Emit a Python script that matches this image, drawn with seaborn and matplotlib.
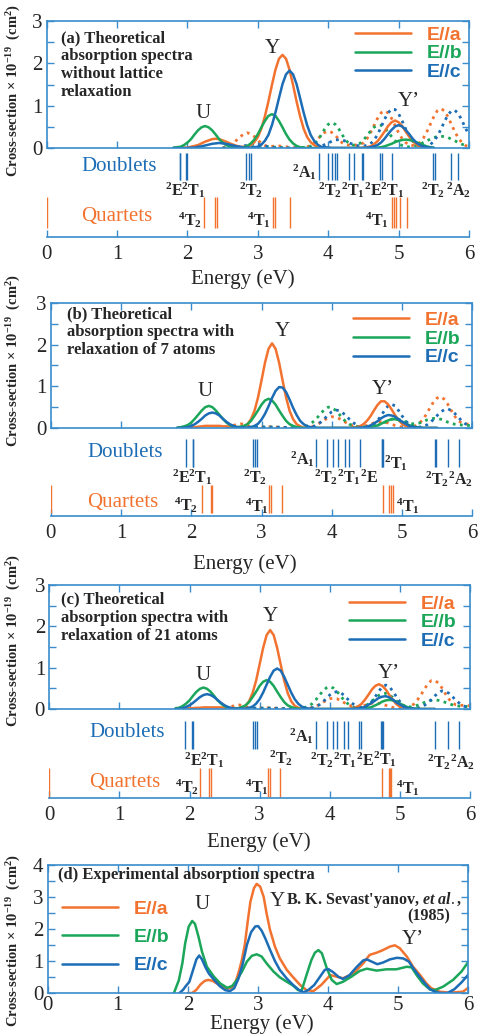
import numpy as np
import matplotlib
matplotlib.use("Agg")
import matplotlib.pyplot as plt
from matplotlib.ticker import MultipleLocator
import seaborn as sns

sns.set_style("ticks")
plt.rcParams["font.family"] = ["Liberation Serif", "DejaVu Serif"]
plt.rcParams["mathtext.fontset"] = "custom"
plt.rcParams["mathtext.rm"] = "Liberation Serif"
plt.rcParams["mathtext.it"] = "Liberation Serif:italic:bold"
plt.rcParams["mathtext.bf"] = "Liberation Serif:bold"

ORANGE = "#f27330"
GREEN = "#1ba65a"
BLUE = "#1c6db5"
FRAME = "#3a8ccc"

# energy grids of the calculated spectra (eV)
E_SOLID = np.round(np.arange(1.80, 5.501, 0.05), 2)
E_DOT = np.round(np.arange(2.50, 6.001, 0.05), 2)

# ---- (a) without lattice relaxation ----
A_ORANGE = [0.00, 0.00, 0.00, 0.01, 0.01, 0.03, 0.05, 0.07, 0.11, 0.15,
            0.18, 0.21, 0.22, 0.21, 0.18, 0.15, 0.11, 0.08, 0.05, 0.03,
            0.03, 0.04, 0.07, 0.14, 0.26, 0.46, 0.75, 1.10, 1.49, 1.85,
            2.11, 2.20, 2.11, 1.85, 1.49, 1.10, 0.75, 0.46, 0.26, 0.14,
            0.07, 0.03, 0.01, 0.00, 0.00, 0.00, 0.00, 0.00, 0.00, 0.00,
            0.00, 0.00, 0.00, 0.00, 0.01, 0.02, 0.04, 0.09, 0.16, 0.27,
            0.39, 0.52, 0.61, 0.65, 0.61, 0.52, 0.39, 0.27, 0.16, 0.09,
            0.04, 0.02, 0.01, 0.00, 0.00]
A_GREEN = [0.01, 0.02, 0.03, 0.07, 0.13, 0.21, 0.32, 0.42, 0.49, 0.52,
           0.49, 0.42, 0.32, 0.21, 0.13, 0.07, 0.03, 0.02, 0.01, 0.01,
           0.02, 0.05, 0.11, 0.20, 0.33, 0.49, 0.64, 0.76, 0.80, 0.76,
           0.64, 0.49, 0.33, 0.20, 0.11, 0.05, 0.02, 0.01, 0.00, 0.00,
           0.00, 0.00, 0.00, 0.00, 0.00, 0.00, 0.00, 0.00, 0.00, 0.00,
           0.00, 0.00, 0.00, 0.00, 0.00, 0.00, 0.00, 0.01, 0.01, 0.02,
           0.04, 0.07, 0.10, 0.14, 0.17, 0.19, 0.20, 0.19, 0.17, 0.14,
           0.10, 0.07, 0.04, 0.02, 0.01]
A_BLUE = [0.00, 0.00, 0.00, 0.00, 0.00, 0.01, 0.01, 0.03, 0.04, 0.06,
          0.08, 0.10, 0.11, 0.12, 0.11, 0.10, 0.08, 0.06, 0.04, 0.03,
          0.01, 0.01, 0.01, 0.02, 0.03, 0.08, 0.17, 0.31, 0.54, 0.84,
          1.18, 1.51, 1.74, 1.83, 1.74, 1.51, 1.18, 0.84, 0.54, 0.31,
          0.17, 0.08, 0.03, 0.02, 0.01, 0.00, 0.00, 0.00, 0.00, 0.00,
          0.00, 0.00, 0.00, 0.00, 0.00, 0.01, 0.02, 0.04, 0.07, 0.13,
          0.22, 0.33, 0.43, 0.51, 0.54, 0.51, 0.43, 0.33, 0.22, 0.13,
          0.07, 0.04, 0.02, 0.01, 0.00]
A_ORANGE_DOT = [0.01, 0.03, 0.06, 0.11, 0.19, 0.27, 0.33, 0.36, 0.33, 0.27,
                0.19, 0.11, 0.06, 0.04, 0.04, 0.05, 0.05, 0.04, 0.03, 0.02,
                0.01, 0.01, 0.01, 0.01, 0.03, 0.06, 0.12, 0.21, 0.30, 0.37,
                0.40, 0.37, 0.30, 0.21, 0.12, 0.08, 0.07, 0.07, 0.07, 0.09,
                0.12, 0.22, 0.36, 0.53, 0.70, 0.83, 0.88, 0.83, 0.70, 0.53,
                0.36, 0.22, 0.13, 0.07, 0.06, 0.08, 0.13, 0.23, 0.38, 0.56,
                0.74, 0.88, 0.93, 0.88, 0.74, 0.56, 0.38, 0.23, 0.13, 0.06,
                0.03]
A_GREEN_DOT = [0.00, 0.00, 0.01, 0.01, 0.02, 0.02, 0.03, 0.03, 0.03, 0.03,
               0.03, 0.03, 0.03, 0.03, 0.02, 0.02, 0.01, 0.01, 0.00, 0.00,
               0.00, 0.00, 0.01, 0.01, 0.02, 0.04, 0.09, 0.18, 0.31, 0.45,
               0.56, 0.60, 0.56, 0.45, 0.31, 0.18, 0.10, 0.07, 0.07, 0.11,
               0.19, 0.29, 0.40, 0.49, 0.54, 0.54, 0.48, 0.38, 0.27, 0.17,
               0.10, 0.06, 0.03, 0.03, 0.04, 0.06, 0.09, 0.13, 0.17, 0.21,
               0.25, 0.27, 0.28, 0.27, 0.25, 0.21, 0.17, 0.13, 0.09, 0.06,
               0.04]
A_BLUE_DOT = [0.00, 0.00, 0.01, 0.01, 0.02, 0.03, 0.05, 0.07, 0.09, 0.10,
              0.09, 0.07, 0.05, 0.03, 0.02, 0.01, 0.01, 0.00, 0.00, 0.00,
              0.00, 0.00, 0.00, 0.00, 0.00, 0.01, 0.01, 0.03, 0.05, 0.08,
              0.12, 0.16, 0.19, 0.20, 0.19, 0.16, 0.12, 0.09, 0.06, 0.05,
              0.05, 0.06, 0.10, 0.18, 0.32, 0.49, 0.68, 0.83, 0.92, 0.91,
              0.81, 0.64, 0.45, 0.29, 0.16, 0.08, 0.05, 0.03, 0.04, 0.08,
              0.16, 0.28, 0.44, 0.62, 0.78, 0.88, 0.89, 0.81, 0.65, 0.47,
              0.31]
A_DOUBLETS = [1.89, 1.90, 1.98, 1.99, 2.83, 2.87, 2.90, 3.87, 4.00, 4.05, 4.09, 4.12,
              4.29, 4.37, 4.48, 4.49, 4.74, 4.77, 4.90, 5.49, 5.52, 5.75, 5.85]
A_QUARTETS = [0.00, 2.24, 2.39, 2.42, 3.21, 3.24, 3.46, 4.91, 4.94, 4.96, 5.02, 5.12]

# ---- (b) relaxation of 7 atoms ----
B_ORANGE = [0.00, 0.00, 0.01, 0.01, 0.02, 0.02, 0.03, 0.04, 0.05, 0.05,
            0.05, 0.05, 0.05, 0.04, 0.04, 0.03, 0.02, 0.02, 0.02, 0.04,
            0.09, 0.21, 0.41, 0.73, 1.14, 1.57, 1.90, 2.03, 1.90, 1.57,
            1.14, 0.73, 0.41, 0.21, 0.09, 0.04, 0.01, 0.00, 0.00, 0.00,
            0.00, 0.00, 0.00, 0.00, 0.00, 0.00, 0.00, 0.00, 0.00, 0.00,
            0.01, 0.02, 0.04, 0.09, 0.17, 0.28, 0.42, 0.55, 0.64, 0.64,
            0.57, 0.45, 0.31, 0.19, 0.10, 0.05, 0.02, 0.01, 0.00, 0.00,
            0.00, 0.00, 0.00, 0.00, 0.00]
B_GREEN = [0.01, 0.02, 0.04, 0.07, 0.13, 0.22, 0.32, 0.42, 0.50, 0.53,
           0.50, 0.42, 0.32, 0.22, 0.13, 0.07, 0.04, 0.02, 0.03, 0.05,
           0.09, 0.17, 0.29, 0.42, 0.56, 0.66, 0.70, 0.66, 0.56, 0.42,
           0.29, 0.17, 0.09, 0.05, 0.02, 0.01, 0.00, 0.00, 0.00, 0.00,
           0.00, 0.00, 0.00, 0.00, 0.00, 0.00, 0.00, 0.00, 0.00, 0.00,
           0.00, 0.00, 0.00, 0.00, 0.01, 0.02, 0.04, 0.06, 0.10, 0.14,
           0.18, 0.21, 0.21, 0.19, 0.15, 0.11, 0.07, 0.04, 0.02, 0.01,
           0.00, 0.00, 0.00, 0.00, 0.00]
B_BLUE = [0.00, 0.00, 0.01, 0.02, 0.05, 0.09, 0.15, 0.22, 0.30, 0.35,
          0.37, 0.35, 0.30, 0.22, 0.15, 0.09, 0.05, 0.02, 0.01, 0.01,
          0.01, 0.02, 0.05, 0.10, 0.20, 0.34, 0.52, 0.72, 0.89, 0.98,
          0.97, 0.86, 0.68, 0.48, 0.31, 0.17, 0.09, 0.04, 0.02, 0.01,
          0.00, 0.00, 0.00, 0.00, 0.00, 0.00, 0.00, 0.00, 0.00, 0.00,
          0.00, 0.00, 0.01, 0.01, 0.03, 0.06, 0.11, 0.16, 0.23, 0.28,
          0.31, 0.30, 0.27, 0.21, 0.15, 0.10, 0.05, 0.03, 0.01, 0.01,
          0.00, 0.00, 0.00, 0.00, 0.00]
B_ORANGE_DOT = [0.01, 0.03, 0.06, 0.09, 0.10, 0.09, 0.06, 0.03, 0.02, 0.02,
                0.02, 0.03, 0.03, 0.03, 0.02, 0.02, 0.01, 0.01, 0.00, 0.00,
                0.00, 0.00, 0.01, 0.01, 0.03, 0.05, 0.09, 0.14, 0.20, 0.24,
                0.27, 0.26, 0.23, 0.19, 0.13, 0.09, 0.05, 0.04, 0.03, 0.04,
                0.06, 0.09, 0.12, 0.14, 0.15, 0.14, 0.12, 0.09, 0.06, 0.04,
                0.02, 0.01, 0.01, 0.03, 0.06, 0.12, 0.21, 0.34, 0.49, 0.63,
                0.72, 0.75, 0.69, 0.57, 0.42, 0.28, 0.17, 0.12, 0.10, 0.09,
                0.08]
B_GREEN_DOT = [0.00, 0.01, 0.01, 0.02, 0.02, 0.02, 0.02, 0.02, 0.02, 0.02,
               0.02, 0.02, 0.02, 0.02, 0.01, 0.01, 0.01, 0.00, 0.00, 0.00,
               0.00, 0.01, 0.02, 0.05, 0.10, 0.17, 0.26, 0.36, 0.45, 0.50,
               0.49, 0.43, 0.34, 0.24, 0.15, 0.09, 0.06, 0.04, 0.03, 0.03,
               0.02, 0.02, 0.03, 0.06, 0.09, 0.13, 0.18, 0.21, 0.22, 0.21,
               0.18, 0.15, 0.12, 0.10, 0.11, 0.12, 0.15, 0.19, 0.21, 0.23,
               0.23, 0.21, 0.18, 0.14, 0.11, 0.09, 0.08, 0.07, 0.06, 0.06,
               0.05]
B_BLUE_DOT = [0.00, 0.00, 0.01, 0.01, 0.01, 0.01, 0.01, 0.02, 0.02, 0.02,
              0.02, 0.02, 0.02, 0.02, 0.02, 0.02, 0.02, 0.01, 0.01, 0.01,
              0.00, 0.00, 0.00, 0.01, 0.02, 0.04, 0.09, 0.15, 0.23, 0.31,
              0.39, 0.43, 0.42, 0.37, 0.30, 0.21, 0.13, 0.08, 0.04, 0.03,
              0.03, 0.04, 0.09, 0.17, 0.29, 0.42, 0.53, 0.57, 0.53, 0.42,
              0.29, 0.17, 0.09, 0.04, 0.02, 0.02, 0.04, 0.07, 0.13, 0.21,
              0.30, 0.38, 0.44, 0.46, 0.42, 0.35, 0.26, 0.17, 0.10, 0.07,
              0.05]
B_DOUBLETS = [1.92, 2.02, 2.03, 2.88, 2.91, 2.93, 3.78, 3.93, 4.02, 4.09, 4.19, 4.24,
              4.40, 4.71, 4.72, 4.73, 5.47, 5.48, 5.65, 5.81]
B_QUARTETS = [0.00, 2.15, 2.28, 2.30, 3.11, 3.13, 3.29, 4.73, 4.82, 4.84, 4.87]

# ---- (c) relaxation of 21 atoms ----
C_ORANGE = [0.00, 0.00, 0.01, 0.01, 0.02, 0.02, 0.03, 0.03, 0.04, 0.04,
            0.04, 0.04, 0.04, 0.04, 0.03, 0.03, 0.02, 0.02, 0.02, 0.04,
            0.08, 0.19, 0.39, 0.69, 1.08, 1.48, 1.79, 1.91, 1.79, 1.48,
            1.08, 0.69, 0.39, 0.19, 0.08, 0.03, 0.01, 0.00, 0.00, 0.00,
            0.00, 0.00, 0.00, 0.00, 0.00, 0.00, 0.00, 0.00, 0.00, 0.00,
            0.01, 0.03, 0.06, 0.12, 0.22, 0.34, 0.47, 0.56, 0.60, 0.56,
            0.47, 0.34, 0.22, 0.12, 0.06, 0.03, 0.01, 0.00, 0.00, 0.00,
            0.00, 0.00, 0.00, 0.00, 0.00]
C_GREEN = [0.02, 0.03, 0.07, 0.13, 0.21, 0.32, 0.42, 0.49, 0.52, 0.49,
           0.42, 0.32, 0.21, 0.13, 0.07, 0.03, 0.02, 0.01, 0.02, 0.05,
           0.09, 0.17, 0.29, 0.42, 0.56, 0.66, 0.70, 0.66, 0.56, 0.42,
           0.29, 0.17, 0.09, 0.05, 0.02, 0.01, 0.00, 0.00, 0.00, 0.00,
           0.00, 0.00, 0.00, 0.00, 0.00, 0.00, 0.00, 0.00, 0.00, 0.00,
           0.00, 0.00, 0.00, 0.01, 0.01, 0.03, 0.05, 0.09, 0.13, 0.18,
           0.21, 0.22, 0.21, 0.18, 0.13, 0.09, 0.05, 0.03, 0.01, 0.01,
           0.00, 0.00, 0.00, 0.00, 0.00]
C_BLUE = [0.00, 0.01, 0.02, 0.05, 0.09, 0.15, 0.22, 0.29, 0.34, 0.36,
          0.34, 0.29, 0.22, 0.15, 0.09, 0.05, 0.02, 0.01, 0.01, 0.01,
          0.01, 0.03, 0.06, 0.13, 0.24, 0.40, 0.59, 0.78, 0.93, 0.98,
          0.93, 0.78, 0.59, 0.40, 0.24, 0.13, 0.06, 0.03, 0.01, 0.01,
          0.00, 0.00, 0.00, 0.00, 0.00, 0.00, 0.00, 0.00, 0.00, 0.00,
          0.00, 0.01, 0.01, 0.03, 0.05, 0.10, 0.15, 0.21, 0.27, 0.30,
          0.31, 0.28, 0.23, 0.16, 0.11, 0.06, 0.03, 0.01, 0.01, 0.00,
          0.00, 0.00, 0.00, 0.00, 0.00]
C_ORANGE_DOT = [0.01, 0.03, 0.06, 0.09, 0.10, 0.09, 0.06, 0.03, 0.02, 0.02,
                0.02, 0.03, 0.03, 0.03, 0.02, 0.02, 0.01, 0.01, 0.00, 0.00,
                0.00, 0.00, 0.00, 0.01, 0.02, 0.04, 0.06, 0.11, 0.16, 0.21,
                0.25, 0.26, 0.25, 0.21, 0.16, 0.11, 0.08, 0.06, 0.05, 0.07,
                0.09, 0.12, 0.14, 0.15, 0.14, 0.12, 0.09, 0.06, 0.04, 0.02,
                0.01, 0.02, 0.03, 0.06, 0.12, 0.22, 0.34, 0.48, 0.61, 0.69,
                0.69, 0.63, 0.51, 0.37, 0.24, 0.15, 0.10, 0.09, 0.09, 0.08,
                0.08]
C_GREEN_DOT = [0.00, 0.01, 0.01, 0.02, 0.02, 0.02, 0.02, 0.02, 0.02, 0.02,
               0.02, 0.02, 0.02, 0.02, 0.01, 0.01, 0.01, 0.00, 0.00, 0.00,
               0.00, 0.01, 0.02, 0.04, 0.07, 0.13, 0.22, 0.33, 0.43, 0.51,
               0.54, 0.51, 0.43, 0.33, 0.22, 0.14, 0.08, 0.04, 0.03, 0.04,
               0.07, 0.12, 0.19, 0.26, 0.33, 0.37, 0.38, 0.34, 0.28, 0.20,
               0.13, 0.09, 0.06, 0.05, 0.06, 0.09, 0.12, 0.16, 0.19, 0.21,
               0.22, 0.21, 0.19, 0.16, 0.13, 0.10, 0.08, 0.07, 0.06, 0.06,
               0.05]
C_BLUE_DOT = [0.00, 0.00, 0.01, 0.01, 0.01, 0.01, 0.01, 0.02, 0.02, 0.02,
              0.02, 0.02, 0.02, 0.02, 0.02, 0.02, 0.02, 0.01, 0.01, 0.01,
              0.00, 0.00, 0.00, 0.00, 0.01, 0.03, 0.06, 0.10, 0.17, 0.25,
              0.34, 0.40, 0.42, 0.40, 0.34, 0.25, 0.17, 0.10, 0.06, 0.04,
              0.05, 0.10, 0.18, 0.30, 0.43, 0.54, 0.58, 0.54, 0.43, 0.30,
              0.18, 0.09, 0.04, 0.02, 0.01, 0.02, 0.05, 0.09, 0.15, 0.23,
              0.32, 0.39, 0.44, 0.43, 0.38, 0.30, 0.21, 0.14, 0.08, 0.05,
              0.03]
C_DOUBLETS = [1.94, 2.03, 2.05, 2.91, 2.93, 2.96, 3.80, 3.96, 4.04, 4.11, 4.21, 4.26,
              4.42, 4.44, 4.73, 4.75, 4.76, 5.50, 5.68, 5.84]
C_QUARTETS = [0.00, 2.15, 2.28, 2.31, 3.12, 3.15, 3.29, 4.75, 4.84, 4.86, 4.88]

# ---- (d) experiment, Sevast'yanov et al. (1985) ----
D_ORANGE_E = [2.00, 2.06, 2.12, 2.18, 2.24, 2.29, 2.35, 2.41, 2.47, 2.53, 2.58, 2.63,
              2.68, 2.73, 2.77, 2.81, 2.85, 2.89, 2.94, 2.98, 3.03, 3.08, 3.12, 3.17,
              3.24, 3.31, 3.41, 3.50, 3.60, 3.69, 3.79, 3.90, 4.03, 4.12, 4.21, 4.36,
              4.50, 4.59, 4.69, 4.78, 4.88, 4.95, 5.02, 5.12, 5.21, 5.31, 5.40, 5.47,
              5.59, 5.73, 5.92, 6.00]
D_ORANGE = [0.00, 0.00, 0.10, 0.27, 0.38, 0.41, 0.38, 0.30, 0.22, 0.16, 0.14, 0.18,
            0.35, 0.70, 1.05, 1.50, 2.20, 2.85, 3.27, 3.41, 3.32, 3.00, 2.50, 1.97,
            1.45, 1.08, 0.72, 0.49, 0.25, 0.09, 0.06, 0.25, 0.56, 0.51, 0.46, 0.61,
            0.93, 1.19, 1.26, 1.34, 1.45, 1.49, 1.40, 1.14, 0.82, 0.56, 0.30, 0.15,
            0.04, 0.01, 0.04, 0.17]
D_GREEN_E = [1.80, 1.87, 1.92, 1.96, 2.01, 2.06, 2.10, 2.15, 2.20, 2.27, 2.37, 2.46,
             2.56, 2.63, 2.70, 2.77, 2.84, 2.91, 2.98, 3.05, 3.12, 3.22, 3.31, 3.41,
             3.50, 3.57, 3.62, 3.69, 3.76, 3.81, 3.86, 3.91, 3.98, 4.05, 4.12, 4.21,
             4.33, 4.45, 4.55, 4.69, 4.83, 4.97, 5.12, 5.19, 5.26, 5.35, 5.45, 5.52,
             5.64, 5.78, 5.90, 6.00]
D_GREEN = [0.00, 0.40, 0.93, 1.55, 2.07, 2.25, 2.16, 1.76, 1.29, 0.82, 0.51, 0.30,
           0.16, 0.22, 0.41, 0.67, 0.98, 1.16, 1.21, 1.14, 0.93, 0.67, 0.49, 0.35,
           0.23, 0.09, 0.07, 0.56, 1.03, 1.26, 1.34, 1.24, 0.77, 0.41, 0.28, 0.35,
           0.51, 0.69, 0.76, 0.70, 0.74, 0.74, 0.82, 0.80, 0.56, 0.30, 0.11, 0.09,
           0.20, 0.41, 0.67, 0.98]
D_BLUE_E = [1.88, 1.93, 1.97, 2.02, 2.07, 2.12, 2.16, 2.20, 2.25, 2.30, 2.37, 2.45,
            2.53, 2.60, 2.66, 2.72, 2.78, 2.84, 2.90, 2.96, 3.00, 3.05, 3.10, 3.17,
            3.24, 3.31, 3.41, 3.50, 3.58, 3.65, 3.72, 3.80, 3.88, 3.95, 4.00, 4.07,
            4.15, 4.21, 4.30, 4.40, 4.50, 4.55, 4.62, 4.70, 4.78, 4.88, 4.98, 5.07,
            5.15, 5.22, 5.30, 5.38, 5.45, 5.52, 5.60, 5.70, 5.80, 5.90, 6.00]
D_BLUE = [0.00, 0.10, 0.22, 0.35, 0.70, 1.05, 1.17, 1.05, 0.80, 0.60, 0.42, 0.22,
          0.09, 0.06, 0.15, 0.45, 0.90, 1.50, 1.90, 2.08, 2.09, 1.95, 1.72, 1.35,
          1.00, 0.72, 0.45, 0.25, 0.10, 0.02, 0.10, 0.25, 0.50, 0.72, 0.75, 0.65,
          0.50, 0.44, 0.55, 0.80, 1.02, 1.05, 0.98, 0.90, 0.95, 1.05, 1.10, 1.08,
          0.98, 0.75, 0.52, 0.30, 0.12, 0.04, 0.00, 0.00, 0.12, 0.33, 0.58]

POL_LABELS = ["E//a", "E//b", "E//c"]
COLORS = [ORANGE, GREEN, BLUE]
YLABEL = "Cross-section \u00d7 10$^{\\mathregular{-19}}$  (cm$^{\\mathregular{2}}$)"
LEG_PROP = {"family": "Liberation Sans", "weight": "bold", "size": 14}


def lv(s):
    return "$\\mathregular{" + s + "}$"


PANELS = [
    dict(spec=[0.0977, 0.8571, 0.8835, 0.1226], lev=[0.0977, 0.7712, 0.8835, 0.0859], lev_h=89,
         solid=[A_ORANGE, A_GREEN, A_BLUE], dot=[A_ORANGE_DOT, A_GREEN_DOT, A_BLUE_DOT],
         doublets=A_DOUBLETS, quartets=A_QUARTETS, d_span=(57, 84), q_span=(9, 40),
         title="(a) Theoretical\nabsorption spectra\nwithout lattice\nrelaxation",
         title_xy=(0.034, 0.93), leg_xy=(0.985, 0.96),
         peaks=[("U", 2.22, 0.82), ("Y", 3.20, 2.36), ("Y\u2019", 5.15, 1.09)],
         names=[(1.03, 71), (1.00, 21)],
         levels=[("^{2}E^{2}T_{1}", 1.97, 47), ("^{2}T_{2}", 2.91, 47), ("^{2}A_{1}", 3.66, 65),
                 ("^{2}T_{2}{}^{2}T_{1}{}^{2}E{}^{2}T_{1}", 4.47, 47),
                 ("^{2}T_{2}\\,{}^{2}A_{2}", 5.68, 47),
                 ("^{4}T_{2}", 2.04, 17), ("^{4}T_{1}", 3.02, 17), ("^{4}T_{1}", 4.69, 17)],
         ylab=(-0.055, 0.45)),
    dict(spec=[0.1061, 0.5869, 0.8820, 0.1207], lev=[0.1061, 0.5019, 0.8820, 0.0849], lev_h=88,
         solid=[B_ORANGE, B_GREEN, B_BLUE], dot=[B_ORANGE_DOT, B_GREEN_DOT, B_BLUE_DOT],
         doublets=B_DOUBLETS, quartets=B_QUARTETS, d_span=(49, 77), q_span=(3, 31),
         title="(b) Theoretical\nabsorption spectra with\nrelaxation of 7 atoms",
         title_xy=(0.038, 0.975), leg_xy=(0.972, 0.93),
         peaks=[("U", 2.20, 0.87), ("Y", 3.29, 2.31), ("Y\u2019", 4.73, 0.93)],
         names=[(1.06, 64), (1.03, 14)],
         levels=[("^{2}E^{2}T_{1}", 2.02, 39), ("^{2}T_{2}", 2.91, 39), ("^{2}A_{1}", 3.58, 57),
                 ("^{2}T_{2}{}^{2}T_{1}{}^{2}E", 4.20, 39), ("^{2}T_{1}", 4.91, 53),
                 ("^{2}T_{2}{}^{2}A_{2}", 5.67, 37),
                 ("^{4}T_{2}", 1.92, 11), ("^{4}T_{1}", 2.93, 10), ("^{4}T_{1}", 5.09, 10)],
         ylab=(-0.065, 0.54)),
    dict(spec=[0.1031, 0.3156, 0.8801, 0.1197], lev=[0.1031, 0.2297, 0.8801, 0.0859], lev_h=89,
         solid=[C_ORANGE, C_GREEN, C_BLUE], dot=[C_ORANGE_DOT, C_GREEN_DOT, C_BLUE_DOT],
         doublets=C_DOUBLETS, quartets=C_QUARTETS, d_span=(49, 77), q_span=(1, 30),
         title="(c) Theoretical\nabsorption spectra with\nrelaxation of 21 atoms",
         title_xy=(0.029, 0.945), leg_xy=(0.968, 0.92),
         peaks=[("U", 2.20, 0.80), ("Y", 3.15, 2.23), ("Y\u2019", 4.84, 0.85)],
         names=[(1.11, 66), (1.08, 16)],
         levels=[("^{2}E^{2}T_{1}", 2.21, 38), ("^{2}T_{2}", 3.31, 40), ("^{2}A_{1}", 3.60, 62),
                 ("^{2}T_{2}{}^{2}T_{1}{}^{2}E", 4.17, 38), ("^{2}T_{1}", 4.79, 39),
                 ("^{2}T_{2}{}^{2}A_{2}", 5.73, 36),
                 ("^{4}T_{2}", 1.96, 11), ("^{4}T_{1}", 2.96, 11), ("^{4}T_{1}", 5.12, 10)],
         ylab=(-0.062, 0.556)),
]
XLAB_POS = [(0.465, -0.36), (0.461, -0.43), (0.497, -0.39)]


def style_frame(ax, ymax):
    ax.set_xlim(0, 6)
    ax.set_ylim(0, ymax)
    for sp in ax.spines.values():
        sp.set_color(FRAME)
        sp.set_linewidth(1.2)
    ax.xaxis.set_major_locator(MultipleLocator(1))
    ax.yaxis.set_major_locator(MultipleLocator(1))
    ax.yaxis.set_minor_locator(MultipleLocator(0.5))
    ax.tick_params(which="both", direction="in", top=True, right=True, bottom=True, left=True,
                   length=5, width=1, color=FRAME, labelsize=15, pad=3)
    ax.set_ylabel(YLABEL, fontsize=10.5, fontweight="bold")


fig = plt.figure(figsize=(4.78, 10.36), dpi=100)

for p, xlab in zip(PANELS, XLAB_POS):
    ax = fig.add_axes(p["spec"])
    for vals, c in zip(p["dot"], COLORS):
        sns.lineplot(x=E_DOT, y=vals, ax=ax, color=c, lw=2.0, linestyle=(0, (1, 1.6)),
                     errorbar=None, sort=False)
    for vals, c, lab in zip(p["solid"], COLORS, POL_LABELS):
        sns.lineplot(x=E_SOLID, y=vals, ax=ax, color=c, lw=1.8, label=lab,
                     errorbar=None, sort=False)
    style_frame(ax, 3)
    ax.tick_params(axis="x", labelbottom=False)
    ax.set_xlabel("")
    ax.yaxis.set_label_coords(*p["ylab"])
    ax.legend(loc="upper right", bbox_to_anchor=p["leg_xy"], frameon=False, prop=LEG_PROP,
              labelcolor="linecolor", handlelength=2.9, handletextpad=0.8, labelspacing=0.05,
              borderpad=0, borderaxespad=0)
    ax.text(*p["title_xy"], p["title"], transform=ax.transAxes, ha="left", va="top",
            fontsize=12, fontweight="bold", linespacing=1.17)
    for t, x, y in p["peaks"]:
        ax.text(x, y, t, ha="center", va="center", fontsize=15)

    lv_ax = fig.add_axes(p["lev"])
    lv_ax.set_facecolor("none")
    lv_ax.set_xlim(0, 6)
    lv_ax.set_ylim(0, p["lev_h"])
    lv_ax.vlines(p["doublets"], *p["d_span"], color=BLUE, lw=1.0)
    lv_ax.vlines(p["quartets"], *p["q_span"], color=ORANGE, lw=1.0)
    for s in ["left", "right", "top"]:
        lv_ax.spines[s].set_visible(False)
    lv_ax.spines["bottom"].set_color(FRAME)
    lv_ax.spines["bottom"].set_linewidth(1.2)
    lv_ax.set_xticks(range(7))
    lv_ax.set_yticks([])
    lv_ax.tick_params(axis="x", direction="in", length=5, width=1, color=FRAME,
                      labelsize=15, pad=6)
    lv_ax.set_xlabel("Energy (eV)", fontsize=15)
    lv_ax.xaxis.set_label_coords(*xlab)
    (dx, dy), (qx, qy) = p["names"]
    lv_ax.text(dx, dy, "Doublets", color=BLUE, ha="center", va="center", fontsize=15)
    lv_ax.text(qx, qy, "Quartets", color=ORANGE, ha="center", va="center", fontsize=15)
    for s, x, y in p["levels"]:
        lv_ax.text(x, y, lv(s), ha="center", va="center", fontsize=11.5, fontweight="bold")

# ---- (d) experimental ----
ax = fig.add_axes([0.0998, 0.0415, 0.8803, 0.1236])
sns.lineplot(x=D_ORANGE_E, y=D_ORANGE, ax=ax, color=ORANGE, lw=1.8, label="E//a",
             errorbar=None, sort=False)
sns.lineplot(x=D_GREEN_E, y=D_GREEN, ax=ax, color=GREEN, lw=1.8, label="E//b",
             errorbar=None, sort=False)
sns.lineplot(x=D_BLUE_E, y=D_BLUE, ax=ax, color=BLUE, lw=1.8, label="E//c",
             errorbar=None, sort=False)
style_frame(ax, 4)
ax.tick_params(axis="x", pad=2)
ax.set_xlabel("Energy (eV)", fontsize=15)
ax.xaxis.set_label_coords(0.51, -0.165)
ax.yaxis.set_label_coords(-0.058, 0.414)
ax.legend(loc="upper left", bbox_to_anchor=(0.034, 0.725), frameon=False, prop=LEG_PROP,
          labelcolor="linecolor", handlelength=2.9, handletextpad=0.8, labelspacing=0.55,
          borderpad=0, borderaxespad=0)
ax.text(0.024, 0.985, "(d) Experimental absorption spectra", transform=ax.transAxes,
        ha="left", va="top", fontsize=12, fontweight="bold")
ax.text(0.985, 0.727, "B. K. Sevast'yanov, $\\mathit{et\\ al.}$,", transform=ax.transAxes,
        ha="right", va="center", fontsize=11.5, fontweight="bold")
ax.text(0.956, 0.602, "(1985)", transform=ax.transAxes, ha="right", va="center",
        fontsize=11.5, fontweight="bold")
for t, x, y in [("U", 2.20, 2.75), ("Y", 3.27, 2.85), ("Y\u2019", 5.21, 1.66)]:
    ax.text(x, y, t, ha="center", va="center", fontsize=15)

fig.savefig("out.png", dpi=100)
